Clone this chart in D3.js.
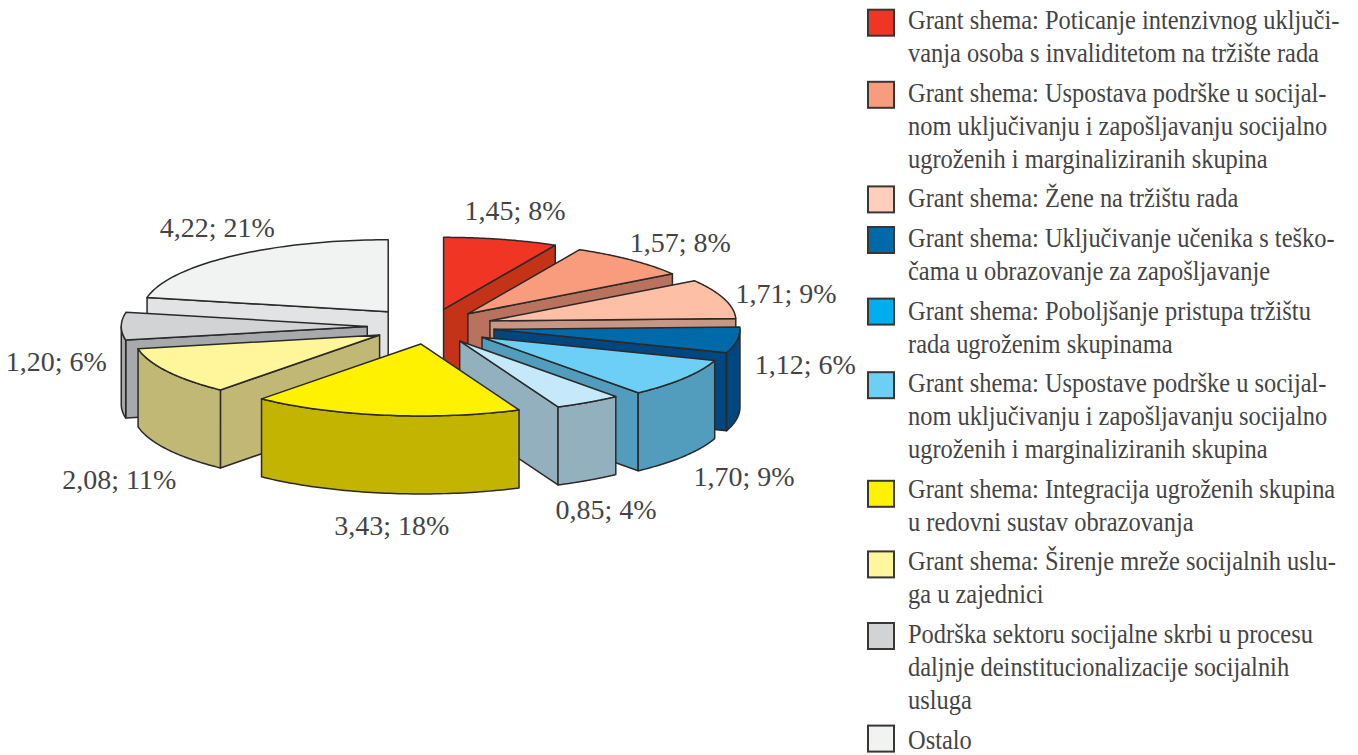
<!DOCTYPE html>
<meta charset="utf-8">
<style>
    body { margin: 0; background: #fff; }
    text {
        font-family: "Liberation Serif", serif;
        fill: #444;
    }
    .legend text { font-size: 27px; }
    .lab { font-size: 28px; }
    path { stroke: #2b2a29; stroke-width: 1.5; stroke-linejoin: round; }
    rect { stroke: #3a3634; stroke-width: 2; }
</style>
<svg width="1358" height="755"></svg>
<script src="https://cdn.jsdelivr.net/npm/d3@7"></script>
<script>
    // slices, clockwise from 12 o'clock
    var values = [1.45, 1.57, 1.71, 1.12, 1.70, 0.85, 3.43, 2.08, 1.20, 4.22];
    var percents = [8, 8, 9, 6, 9, 4, 18, 11, 6, 21];

    var topColors = ["#f03524", "#f99c7d", "#fdbfa5", "#0069aa", "#6dcff6", "#c5e9fa", "#fff200", "#fff59b", "#d1d3d4", "#f1f2f2"];
    var sideColors = ["#c43317", "#b8725e", "#c99683", "#00477f", "#529dbd", "#93b0bf", "#c2b400", "#c1b875", "#a7a9ac", "#e1e3e5"];

    var legendColors = ["#f03524", "#f99c7d", "#ffcfbc", "#0069aa", "#00aeef", "#6dcff6", "#fff200", "#fff59b", "#d1d3d4", "#f1f2f2"];
    var legendLines = [
        ["Grant shema: Poticanje intenzivnog uključi-", "vanja osoba s invaliditetom na tržište rada"],
        ["Grant shema: Uspostava podrške u socijal-", "nom uključivanju i zapošljavanju socijalno", "ugroženih i marginaliziranih skupina"],
        ["Grant shema: Žene na tržištu rada"],
        ["Grant shema: Uključivanje učenika s teško-", "čama u obrazovanje za zapošljavanje"],
        ["Grant shema: Poboljšanje pristupa tržištu", "rada ugroženim skupinama"],
        ["Grant shema: Uspostave podrške u socijal-", "nom uključivanju i zapošljavanju socijalno", "ugroženih i marginaliziranih skupina"],
        ["Grant shema: Integracija ugroženih skupina", "u redovni sustav obrazovanja"],
        ["Grant shema: Širenje mreže socijalnih uslu-", "ga u zajednici"],
        ["Podrška sektoru socijalne skrbi u procesu", "daljnje deinstitucionalizacije socijalnih", "usluga"],
        ["Ostalo"]
    ];

    // label offset from the rim point at the slice's middle angle
    var labelNudge = [[14, -19], [49, -8], [62, 4], [68, 34], [60, 108], [18, 117], [7, 120], [-48, 118], [-65, 45], [-15, -19]];
    // how far each slice is pulled out, as a share of the radius
    var explode = [0.245, 0.235, 0.258, 0.265, 0.26, 0.235, 0.245, 0.235, 0.253, 0.265];
    // the swatches don't sit evenly against their text
    var swatchRaise = [19.5, 20, 21, 20, 21, 20, 17, 19, 20, 23];

    var svg = d3.select("svg"),
        cx = 429.5,
        cy = 326.5,
        rx = 246,
        ry = 72,
        depth = 78;

    var x = d3.scaleLinear().domain([-1, 1]).range([cx - rx, cx + rx]),
        y = d3.scaleLinear().domain([-1, 1]).range([cy - ry, cy + ry]);

    var arcs = d3.pie().sort(null)(values);
    var line = d3.line();

    function pt(d, a, r, h) {
        // a point of slice d, pushed out from the middle by its explode factor
        var mid = (d.startAngle + d.endAngle) / 2,
            e = explode[d.index];
        return [
            x(e * Math.sin(mid) + r * Math.sin(a)),
            y(-e * Math.cos(mid) - r * Math.cos(a)) + (h || 0)
        ];
    }

    function arcPts(d, a0, a1, h) {
        return d3.range(0, 61).map(function(i) {
            return pt(d, a0 + (a1 - a0) * i / 60, 1, h);
        });
    }

    function wall(d, a) {
        return line([pt(d, a, 0), pt(d, a, 1), pt(d, a, 1, depth), pt(d, a, 0, depth)]) + "Z";
    }

    // back to front
    var order = arcs.slice().sort(function(p, q) {
        return Math.cos((q.startAngle + q.endAngle) / 2) - Math.cos((p.startAngle + p.endAngle) / 2);
    });

    var pieG = svg.append("g");

    order.forEach(function(d) {
        var g = pieG.append("g"),
            side = sideColors[d.index];

        if (Math.sin(d.startAngle) < 0) g.append("path").attr("d", wall(d, d.startAngle)).attr("fill", side);
        if (Math.sin(d.endAngle) > 0) g.append("path").attr("d", wall(d, d.endAngle)).attr("fill", side);

        // outer rim, only the front half of the ellipse faces us
        var a0 = Math.max(d.startAngle, Math.PI / 2),
            a1 = Math.min(d.endAngle, Math.PI * 1.5);
        if (a1 > a0) {
            g.append("path")
                .attr("d", line(arcPts(d, a0, a1).concat(arcPts(d, a1, a0, depth))) + "Z")
                .attr("fill", side);
        }

        g.append("path")
            .attr("d", line([pt(d, 0, 0)].concat(arcPts(d, d.startAngle, d.endAngle))) + "Z")
            .attr("fill", topColors[d.index]);
    });

    svg.append("g").selectAll("text")
        .data(arcs)
        .enter().append("text")
        .attr("class", "lab")
        .attr("text-anchor", "middle")
        .attr("x", function(d, i) {
            return pt(d, (d.startAngle + d.endAngle) / 2, 1)[0] + labelNudge[i][0];
        })
        .attr("y", function(d, i) {
            return pt(d, (d.startAngle + d.endAngle) / 2, 1)[1] + labelNudge[i][1];
        })
        .text(function(d, i) {
            return d3.format(".2f")(d.value).replace(".", ",") + "; " + percents[i] + "%";
        });

    // legend, blocks flow down the page
    var legend = svg.append("g").attr("class", "legend"),
        ly = 29.2,
        lineH = 33,
        gap = 6.6;

    legendLines.forEach(function(lines, i) {
        legend.append("rect")
            .attr("x", 868).attr("y", ly - swatchRaise[i])
            .attr("width", 26).attr("height", 26)
            .attr("fill", legendColors[i]);
        lines.forEach(function(t, j) {
            legend.append("text")
                .attr("transform", "translate(908," + (ly + j * lineH) + ") scale(0.905,1)")
                .text(t);
        });
        ly += lines.length * lineH + gap;
    });
</script>
